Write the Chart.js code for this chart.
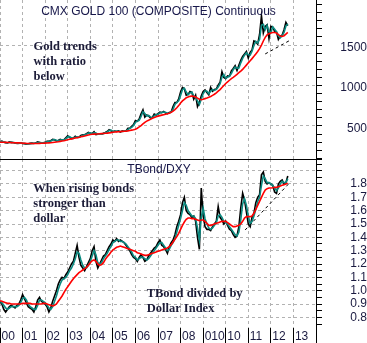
<!DOCTYPE html>
<html><head><meta charset="utf-8">
<script src="https://cdn.jsdelivr.net/npm/chart.js@4/dist/chart.umd.min.js"></script>
<style>
html,body{margin:0;padding:0;background:#fff;}
#wrap{position:relative;width:367px;height:343px;overflow:hidden;background:#fff;}
#top{position:absolute;left:0;top:0;width:367px;height:159px;}
#bot{position:absolute;left:0;top:159px;width:367px;height:184px;}
</style></head><body>
<div id="wrap">
<div id="top"><canvas id="c1" width="367" height="159"></canvas></div>
<div id="bot"><canvas id="c2" width="367" height="184"></canvas></div>
</div>
<script>
// ---------- data (monthly, Jan 2000 .. Oct 2012) ----------
const START_YEAR = 2000;
const yearTicks = [2000,2001,2002,2003,2004,2005,2006,2007,2008,2009,2010,2011,2012,2013,2014];
const xLabels = ['00','01','02','03','04','05','06','07','08','010','10','11','12','13'];

const goldPrice = [
 305,312,298,295,292,305,298,296,292,284,288,290,
 284,282,276,280,285,288,284,290,305,295,290,294,
 298,310,312,318,335,330,315,322,335,328,330,355,
 378,360,345,350,372,358,362,382,392,392,404,420,
 410,405,428,395,400,400,398,412,420,432,455,442,
 428,438,432,440,424,440,435,440,472,472,495,518,
 568,558,585,650,700,610,635,625,600,605,648,635,
 652,670,665,680,660,652,668,672,740,790,790,835,
 920,975,960,880,890,925,915,830,880,740,790,870,
 925,945,915,885,975,930,950,955,1005,1040,1170,1100,
 1085,1120,1115,1180,1210,1245,1185,1250,1310,1360,1390,1420,
 1340,1410,1440,1550,1540,1510,1630,1860,1650,1730,1750,1580,
 1730,1720,1670,1660,1570,1610,1620,1690,1780,1740
];
const goldFast = [
 305,308,305,297,294,298,301,297,294,288,286,289,
 287,283,279,278,282,286,286,287,297,300,293,292,
 296,304,311,315,326,332,323,318,328,331,329,342,
 366,369,353,348,361,365,360,372,387,392,398,412,
 415,408,416,412,398,400,399,405,416,426,443,448,
 435,433,435,436,432,432,437,437,456,472,483,506,
 543,563,571,617,675,655,622,630,612,602,626,641,
 643,661,667,672,670,656,660,670,706,765,790,812,
 878,948,967,920,885,908,920,872,855,810,765,830,
 898,935,930,900,930,952,940,952,980,1022,1105,1135,
 1092,1102,1117,1147,1195,1228,1215,1217,1280,1335,1375,1405,
 1380,1375,1425,1495,1545,1525,1570,1745,1755,1690,1740,1665,
 1655,1725,1695,1665,1615,1590,1615,1655,1735,1760
];
const goldSlow = [
 300,300,299,298,297,296,295,294,293,292,291,290,
 288,287,285,284,283,283,283,283,284,285,286,287,
 289,290,292,294,297,300,303,306,310,314,318,324,
 330,336,341,346,351,356,362,367,372,377,383,389,
 395,398,400,401,402,404,406,408,410,412,415,418,
 422,425,427,429,431,433,435,437,440,444,449,453,
 460,472,488,505,525,545,560,572,582,595,605,615,
 622,628,634,640,646,652,658,668,684,702,725,752,
 785,810,830,848,858,866,870,866,858,845,830,825,
 830,838,846,855,865,878,892,910,930,950,975,1000,
 1025,1045,1065,1085,1100,1118,1138,1158,1178,1200,1225,1252,
 1280,1305,1332,1360,1390,1420,1455,1500,1550,1595,1625,1640,
 1648,1655,1655,1648,1630,1610,1605,1615,1635,1655
];
const goldTrendX = [2011.75, 2012.86];
const goldTrendY = [1390, 1560];
const goldTickValues = [100,200,300,400,500,600,700,800,900,1000,1100,1200,1300,1400,1500,1600,1700,1800,1900,2000];
const goldTickLabels = ['500','1000','1500'];

const bondPrice = [
 0.92,0.90,0.86,0.84,0.86,0.88,0.89,0.88,0.87,0.89,0.90,0.93,
 0.97,0.94,0.91,0.88,0.87,0.86,0.84,0.88,0.93,0.95,0.92,0.91,
 0.90,0.88,0.84,0.87,0.92,0.96,1.00,1.05,1.08,1.10,1.09,1.12,
 1.14,1.17,1.20,1.22,1.28,1.34,1.25,1.19,1.17,1.15,1.18,1.21,
 1.24,1.30,1.33,1.22,1.17,1.20,1.23,1.26,1.27,1.30,1.33,1.35,
 1.38,1.37,1.39,1.37,1.38,1.37,1.36,1.34,1.32,1.30,1.27,1.25,
 1.24,1.22,1.25,1.27,1.25,1.22,1.23,1.26,1.28,1.30,1.32,1.33,
 1.36,1.38,1.34,1.33,1.31,1.28,1.33,1.36,1.38,1.42,1.48,1.52,
 1.57,1.66,1.70,1.60,1.58,1.57,1.55,1.56,1.52,1.40,1.31,1.77,
 1.56,1.48,1.46,1.46,1.45,1.48,1.50,1.52,1.63,1.55,1.53,1.50,
 1.52,1.49,1.46,1.45,1.42,1.40,1.41,1.48,1.62,1.73,1.68,1.59,
 1.50,1.48,1.55,1.58,1.66,1.70,1.72,1.87,1.89,1.82,1.80,1.81,
 1.80,1.79,1.74,1.73,1.80,1.82,1.83,1.80,1.81,1.86
];
const bondFast = [
 0.92,0.91,0.89,0.87,0.86,0.87,0.88,0.88,0.88,0.88,0.89,0.91,
 0.94,0.95,0.93,0.90,0.88,0.87,0.86,0.86,0.89,0.93,0.93,0.92,
 0.91,0.89,0.87,0.86,0.88,0.92,0.96,1.01,1.05,1.08,1.09,1.10,
 1.12,1.15,1.17,1.20,1.24,1.29,1.28,1.23,1.19,1.17,1.17,1.19,
 1.22,1.26,1.30,1.27,1.21,1.20,1.21,1.24,1.26,1.28,1.31,1.33,
 1.36,1.37,1.38,1.38,1.37,1.37,1.36,1.35,1.33,1.31,1.29,1.26,
 1.25,1.23,1.24,1.25,1.25,1.24,1.23,1.24,1.26,1.28,1.30,1.32,
 1.34,1.36,1.36,1.34,1.32,1.30,1.31,1.34,1.36,1.39,1.44,1.49,
 1.54,1.60,1.66,1.64,1.60,1.58,1.56,1.56,1.54,1.47,1.38,1.55,
 1.62,1.54,1.50,1.47,1.46,1.47,1.49,1.51,1.56,1.57,1.55,1.52,
 1.51,1.50,1.48,1.46,1.44,1.42,1.41,1.44,1.53,1.65,1.69,1.64,
 1.56,1.50,1.52,1.56,1.61,1.67,1.70,1.79,1.86,1.84,1.81,1.81,
 1.80,1.79,1.77,1.75,1.77,1.80,1.82,1.81,1.81,1.84
];
const bondSlow = [
 0.925,0.92,0.915,0.91,0.905,0.905,0.90,0.90,0.90,0.90,0.90,0.90,
 0.905,0.905,0.905,0.905,0.905,0.90,0.90,0.90,0.90,0.90,0.90,0.905,
 0.905,0.90,0.895,0.89,0.885,0.89,0.90,0.92,0.94,0.96,0.985,1.01,
 1.03,1.05,1.07,1.09,1.105,1.12,1.135,1.145,1.155,1.165,1.175,1.19,
 1.21,1.225,1.23,1.22,1.20,1.19,1.195,1.21,1.235,1.255,1.27,1.29,
 1.305,1.315,1.325,1.33,1.335,1.33,1.325,1.32,1.315,1.31,1.305,1.30,
 1.295,1.285,1.28,1.275,1.27,1.265,1.265,1.27,1.275,1.28,1.285,1.29,
 1.295,1.30,1.305,1.31,1.315,1.32,1.33,1.345,1.365,1.385,1.405,1.43,
 1.46,1.49,1.515,1.535,1.545,1.545,1.54,1.54,1.535,1.53,1.525,1.53,
 1.53,1.52,1.505,1.49,1.49,1.495,1.50,1.505,1.51,1.515,1.52,1.52,
 1.52,1.51,1.50,1.49,1.48,1.48,1.485,1.49,1.50,1.52,1.545,1.555,
 1.555,1.555,1.56,1.58,1.61,1.64,1.67,1.70,1.73,1.755,1.765,1.77,
 1.77,1.772,1.775,1.775,1.78,1.785,1.79,1.795,1.80,1.805
];
const bondTrendX = [2010.86, 2012.88];
const bondTrendY = [1.455, 1.8175];
const bondTickValues = [0.75,0.8,0.85,0.9,0.95,1.0,1.05,1.1,1.15,1.2,1.25,1.3,1.35,1.4,1.45,1.5,1.55,1.6,1.65,1.7,1.75,1.8,1.85,1.9,1.95];
const bondTickLabels = ['0.8','0.9','1.0','1.1','1.2','1.3','1.4','1.5','1.6','1.7','1.8'];
const bondGridValues = ['0.8','0.9','1.0','1.1','1.2','1.3','1.4','1.5','1.6','1.7','1.8','1.9'];

// ---------- helpers ----------
const toPts = arr => arr.map((v, i) => ({x: START_YEAR + i / 12, y: v}));
const pairPts = (xs, ys) => xs.map((x, i) => ({x, y: ys[i]}));
const GRID = '#b2b2b2';
const AXIS_FONT = {family: '"Liberation Sans", Arial, sans-serif', size: 12};
const AXIS_COLOR = '#1a1a40';
const TITLE_FONT = '12px "Liberation Sans", Arial, sans-serif';
const NOTE_FONT = 'bold 12.5px "Liberation Serif", "Times New Roman", serif';
const TITLE_COLOR = '#17174a';
const NOTE_COLOR = '#1c1c38';

function datasets(price, fast, slow, tx, ty) {
  return [
    {data: pairPts(tx, ty), borderColor: '#000', borderWidth: 1, borderDash: [3, 3], order: 0},
    {data: toPts(slow), borderColor: '#ff0000', borderWidth: 1.6, order: 1},
    {data: toPts(fast), borderColor: '#0b8a80', borderWidth: 1.6, order: 2},
    {data: toPts(price), borderColor: '#000', borderWidth: 1.6, order: 3}
  ].map(d => Object.assign(d, {pointRadius: 0, tension: 0, fill: false}));
}

const textPlugin = {
  id: 'notes',
  afterDatasetsDraw(chart, args, opts) {
    const ctx = chart.ctx;
    ctx.save();
    if (opts.sep) {
      ctx.strokeStyle = '#000'; ctx.lineWidth = 1;
      ctx.beginPath(); ctx.moveTo(0, 0.5); ctx.lineTo(322, 0.5); ctx.stroke();
    }
    ctx.textBaseline = 'alphabetic';
    for (const t of opts.items) {
      ctx.font = t.font; ctx.fillStyle = t.color; ctx.textAlign = t.align || 'left';
      ctx.fillText(t.text, t.x, t.y);
    }
    ctx.restore();
  }
};

function xScale(showLabels) {
  return {
    type: 'linear', min: 2000, max: 2014,
    afterBuildTicks: s => { s.ticks = yearTicks.map(v => ({value: v})); },
    ticks: showLabels ? {
      display: true, autoSkip: false, maxRotation: 0, minRotation: 0, align: 'start',
      labelOffset: 1.5, padding: -14, font: AXIS_FONT, color: AXIS_COLOR,
      callback: v => xLabels[Math.round(v) - START_YEAR] ?? ''
    } : {display: false},
    grid: {color: GRID, lineWidth: 1, drawTicks: showLabels, tickLength: 15, tickColor: '#000', tickBorderDash: [], tickWidth: 1},
    border: {display: false, dash: [3, 3]},
    afterFit: s => { s.height = showLabels ? 15 : 0; s.paddingLeft = 0; s.paddingRight = 0; }
  };
}

function yScale(min, max, tickValues, labels, gridVals, pad, offset) {
  return {
    type: 'linear', position: 'right', min, max,
    afterBuildTicks: s => { s.ticks = tickValues.map(v => ({value: v})); },
    ticks: {
      autoSkip: false, crossAlign: 'far', padding: pad, labelOffset: offset,
      font: AXIS_FONT, color: AXIS_COLOR,
      callback: v => { const l = labels.find(x => Math.abs(Number(x) - v) < 1e-6); return l === undefined ? '' : l; }
    },
    grid: {
      lineWidth: 1, tickLength: 6, tickColor: '#000', tickBorderDash: [], tickWidth: 1,
      color: c => (c.tick && gridVals.some(x => Math.abs(Number(x) - c.tick.value) < 1e-6)) ? GRID : 'rgba(0,0,0,0)'
    },
    border: {display: true, color: '#000', width: 1, dash: [3, 3]},
    afterFit: s => { s.width = 51; s.paddingTop = 0; s.paddingBottom = 0; }
  };
}

const common = {
  responsive: false, maintainAspectRatio: false, animation: false,
  layout: {padding: 0},
  events: []
};

new Chart(document.getElementById('c1'), {
  type: 'line',
  data: {datasets: datasets(goldPrice, goldFast, goldSlow, goldTrendX, goldTrendY)},
  options: Object.assign({}, common, {
    scales: {
      x: xScale(false),
      y: yScale(92.4, 2056.1, goldTickValues, goldTickLabels, goldTickLabels, 13, 2.5)
    },
    plugins: {
      legend: {display: false}, tooltip: {enabled: false},
      notes: {sep: false, items: [
        {text: 'CMX GOLD 100 (COMPOSITE) Continuous', x: 158.5, y: 15, font: TITLE_FONT, color: TITLE_COLOR, align: 'center'},
        {text: 'Gold trends', x: 33.5, y: 49.5, font: NOTE_FONT, color: NOTE_COLOR},
        {text: 'with ratio', x: 33.5, y: 64.8, font: NOTE_FONT, color: NOTE_COLOR},
        {text: 'below', x: 33.5, y: 80, font: NOTE_FONT, color: NOTE_COLOR}
      ]}
    }
  }),
  plugins: [textPlugin]
});

new Chart(document.getElementById('c2'), {
  type: 'line',
  data: {datasets: datasets(bondPrice, bondFast, bondSlow, bondTrendX, bondTrendY)},
  options: Object.assign({}, common, {
    scales: {
      x: xScale(true),
      y: yScale(0.72, 1.9875, bondTickValues, bondTickLabels, bondGridValues, 23, 0)
    },
    plugins: {
      legend: {display: false}, tooltip: {enabled: false},
      notes: {sep: true, items: [
        {text: 'TBond/DXY', x: 159, y: 13.7, font: TITLE_FONT, color: TITLE_COLOR, align: 'center'},
        {text: 'When rising bonds', x: 33.3, y: 32.7, font: NOTE_FONT, color: NOTE_COLOR},
        {text: 'stronger than', x: 33.3, y: 47.8, font: NOTE_FONT, color: NOTE_COLOR},
        {text: 'dollar', x: 33.3, y: 62.8, font: NOTE_FONT, color: NOTE_COLOR},
        {text: 'TBond divided by', x: 146.7, y: 137.7, font: NOTE_FONT, color: NOTE_COLOR},
        {text: 'Dollar Index', x: 146.7, y: 153.3, font: NOTE_FONT, color: NOTE_COLOR}
      ]}
    }
  }),
  plugins: [textPlugin]
});
</script>
</body></html>
